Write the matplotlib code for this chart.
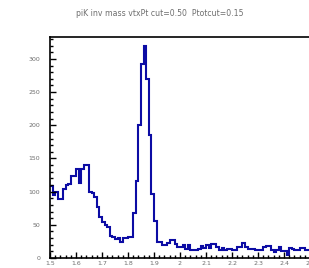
import numpy as np
import matplotlib
matplotlib.use("Agg")
import matplotlib.pyplot as plt
from matplotlib.ticker import MultipleLocator, FuncFormatter

title = "piK inv mass vtxPt cut=0.50  Ptotcut=0.15"
x_min, x_max = 1.5, 2.5
n_bins = 100
counts = [
    108, 95, 100, 89, 89, 104, 110, 112, 123, 123,
    134, 113, 134, 140, 140, 100, 98, 92, 77, 62,
    54, 50, 47, 33, 31, 28, 30, 24, 30, 30,
    32, 32, 68, 116, 200, 293, 319, 269, 186, 96,
    56, 24, 24, 20, 20, 23, 27, 27, 21, 17,
    17, 20, 14, 19, 12, 12, 12, 14, 18, 15,
    19, 15, 21, 21, 17, 12, 15, 12, 14, 14,
    12, 12, 17, 17, 23, 17, 13, 13, 13, 12,
    12, 12, 17, 18, 18, 12, 9, 12, 17, 10,
    10, 5, 15, 14, 12, 12, 15, 15, 12, 12,
]
y_max = 333
x_major = 0.1
y_major = 50

edges = np.linspace(x_min, x_max, n_bins + 1)

fig = plt.figure(figsize=(3.09, 2.68), dpi=100)
ax = fig.add_axes([50 / 309, 10 / 268, 260 / 309, 221 / 268])
ax.stairs(counts, edges, color="#0c0ca4", linewidth=1.5, baseline=None)
ax.set_xlim(x_min, x_max)
ax.set_ylim(0, y_max)

ax.xaxis.set_major_locator(MultipleLocator(x_major))
ax.xaxis.set_minor_locator(MultipleLocator(x_major / 5))
ax.yaxis.set_major_locator(MultipleLocator(y_major))
ax.yaxis.set_minor_locator(MultipleLocator(y_major / 5))
ax.xaxis.set_major_formatter(FuncFormatter(lambda v, p: ("%.1f" % v).rstrip("0").rstrip(".")))
ax.yaxis.set_major_formatter(FuncFormatter(lambda v, p: "%d" % round(v)))

ax.tick_params(which="both", direction="in", top=False, right=False,
               colors="black", labelcolor="#6e6e6e", labelsize=4.5, width=1.0)
ax.tick_params(axis="y", which="major", pad=7)
ax.tick_params(axis="x", which="major", pad=2)
ax.tick_params(which="major", length=4)
ax.tick_params(which="minor", length=2)
for s in ax.spines.values():
    s.set_linewidth(1.2)

fig.text(160 / 309, 1 - 13 / 268, title, ha="center", va="center",
         fontsize=5.6, color="#6e6e6e")

fig.savefig("out.png", dpi=100)
